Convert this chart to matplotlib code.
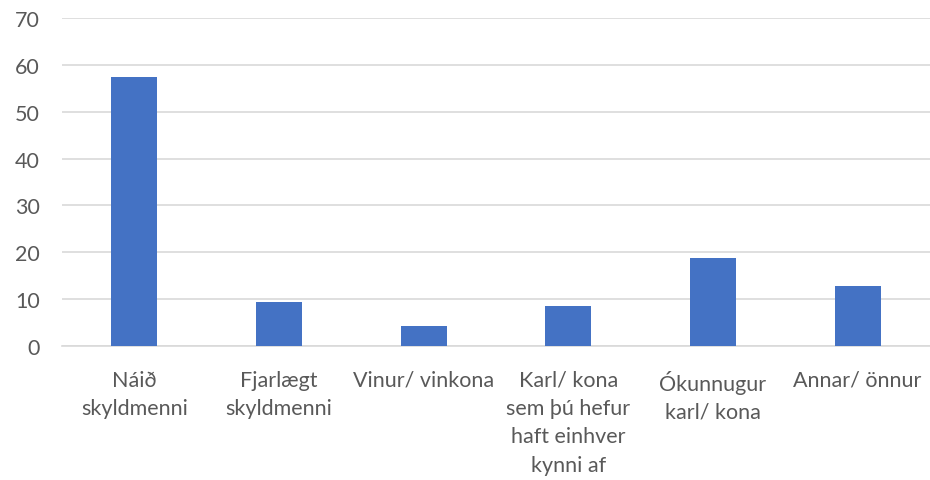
import matplotlib
matplotlib.use("Agg")
import matplotlib.pyplot as plt

categories = ["Náið\nskyldmenni", "Fjarlægt\nskyldmenni", "Vinur/ vinkona",
              "Karl/ kona\nsem þú hefur\nhaft einhver\nkynni af",
              "Ókunnugur\nkarl/ kona", "Annar/ önnur"]
values = [57.5, 9.3, 4.2, 8.6, 18.8, 12.7]
yticks = [0, 10, 20, 30, 40, 50, 60, 70]

plt.rcParams['font.family'] = ['Lato', 'DejaVu Sans']

fig = plt.figure(figsize=(9.30, 4.81), dpi=100)
ax = fig.add_axes([62/930, (481-347)/481, 868/930, (347-19)/481])

x = list(range(len(categories)))
ax.bar(x, values, width=0.32, color="#4472C4", zorder=3)
ax.set_xlim(-0.5, len(categories) - 0.5)
ax.set_ylim(0, 70)
ax.set_yticks(yticks)
ax.set_xticks(x)
ax.set_xticklabels(categories, linespacing=1.52)
ax.grid(axis='y', color="#d9d9d9", linewidth=1.2, zorder=0)
for s in ['top', 'right', 'left']:
    ax.spines[s].set_visible(False)
ax.spines['bottom'].set_color("#d9d9d9")
ax.spines['bottom'].set_linewidth(1.2)
ax.tick_params(axis='both', length=0, labelsize=15.5, labelcolor="#595959")
ax.tick_params(axis='x', pad=17)
ax.tick_params(axis='y', pad=16)
for lbl in ax.get_yticklabels():
    lbl.set_horizontalalignment('right')

fig.savefig("out.png", dpi=100)
